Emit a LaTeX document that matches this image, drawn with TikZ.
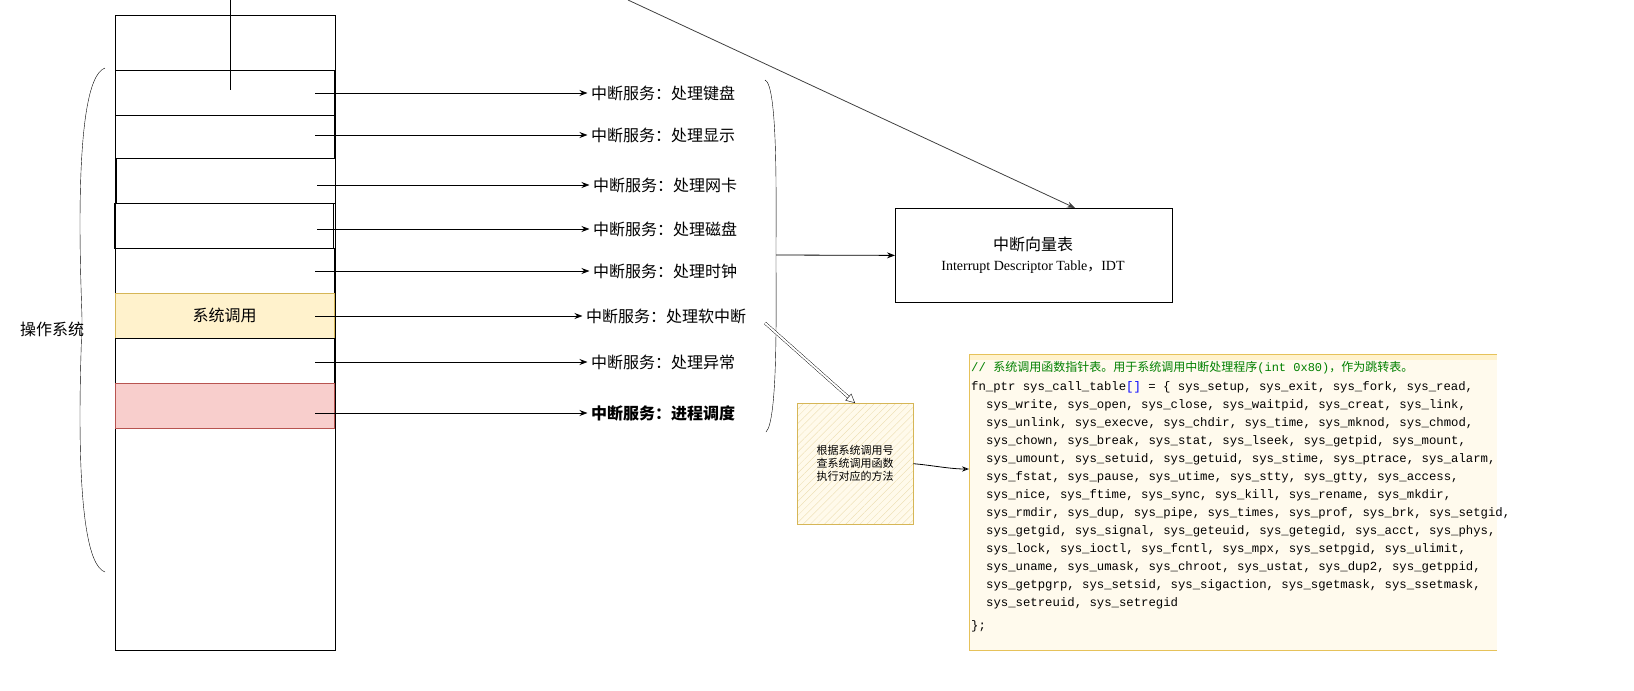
\documentclass[tikz,border=0pt]{standalone}
\usepackage{fontspec}
\setmainfont{Noto Sans CJK SC}
\newfontfamily\cjk{Noto Sans CJK SC}
\newfontfamily\serifen{Liberation Serif}
\newfontfamily\mono{Liberation Mono}
\usetikzlibrary{arrows.meta,patterns.meta}
\definecolor{ylf}{HTML}{FFF2CC}\definecolor{yls}{HTML}{D6B656}
\definecolor{rdf}{HTML}{F8CECC}\definecolor{rds}{HTML}{B85450}
\definecolor{cmt}{HTML}{008000}\definecolor{codeb}{HTML}{E6C25A}
\begin{document}
\begin{tikzpicture}[x=1pt,y=-1pt,
 row/.style={draw,minimum width=219pt,minimum height=45pt,inner sep=0pt,anchor=north west},
 lbl/.style={font=\fontsize{16}{18}\selectfont,anchor=center},
 arr/.style={-{Stealth[length=8pt,width=6pt]},line width=0.8pt},
 cl/.style={anchor=west,inner sep=0pt,font=\mono\fontsize{12.3}{14}\selectfont}]
\useasboundingbox (0,0) rectangle (1634,691);
\node[draw,minimum width=220pt,minimum height=635pt,inner sep=0pt,anchor=north west] (os) at (115,15) {};
\node[row] (r1) at (115,70) {};
\node[row,minimum height=43pt] (r2) at (115,115) {};
\node[row] (r3) at (116,158) {};
\node[row] (r4) at (114,203) {};
\node[row] (r5) at (115,248) {};
\node[row,fill=ylf,draw=yls] (r6) at (115,293) {\fontsize{16}{18}\selectfont 系统调用};
\node[row] (r7) at (115,338) {};
\node[row,fill=rdf,draw=rds] (r8) at (115,383) {};
\coordinate (top) at (230,0);
\coordinate (t1) at (230,90);
\draw (top) -- (t1);
\node[lbl] (s1) at (663,93) {中断服务：处理键盘};
\node[lbl] (s2) at (663,135) {中断服务：处理显示};
\node[lbl] (s3) at (665,185) {中断服务：处理网卡};
\node[lbl] (s4) at (665,229) {中断服务：处理磁盘};
\node[lbl] (s5) at (665,271) {中断服务：处理时钟};
\node[lbl] (s6) at (666,316) {中断服务：处理软中断};
\node[lbl] (s7) at (663,362) {中断服务：处理异常};
\node[lbl,font=\bfseries\fontsize{16}{18}\selectfont] (s8) at (663,413) {中断服务：进程调度};
\foreach \i/\x in {1/315,2/315,3/317,4/317,5/315,6/315,7/315,8/315}
  \draw[arr] (s\i.west -| \x,0) -- (s\i.west);
\node (oslbl) at (52,329) {\fontsize{16}{18}\selectfont 操作系统};
\draw (105,68) .. controls (70,80) and (82,300) .. (82,320) .. controls (82,340) and (70,560) .. (105,572);
\coordinate (bt) at (765,80);
\coordinate (bb) at (766,432);
\coordinate (btip) at (776,255);
\draw (bt) .. controls (778,85) and (776,200) .. (btip) .. controls (776,310) and (778,420) .. (bb);
\node[draw,line width=0.8pt,minimum width=277pt,minimum height=94pt,inner sep=0pt,anchor=north west] (idt) at (895,208) {};
\node[font=\fontsize{16}{19}\selectfont] (idt1) at (1033,244) {中断向量表};
\node[font=\serifen\fontsize{14}{16}\selectfont] (idt2) at (1033,267) {Interrupt Descriptor Table{\cjk ，}IDT};
\draw[arr] (btip) -- (idt.west);
\coordinate (d0) at (628,0);
\draw[arr,draw=black!75] (d0) -- (1075,208);
\node[draw=yls,fill=ylf!40,minimum width=116pt,minimum height=121pt,inner sep=0pt,anchor=north west] (note) at (797,403) {};
\fill[pattern={Lines[angle=45,distance=5pt,line width=0.3pt]},pattern color=yls!50] (note.south west) rectangle (note.north east);
\draw[yls] (note.south west) rectangle (note.north east);
\node[align=center,font=\fontsize{11}{13}\selectfont] at (note.center) {根据系统调用号\\查系统调用函数\\执行对应的方法};
\coordinate (sw) at (765,323);
\draw[double,double distance=2pt,-{Triangle[open,length=9pt,width=9pt]}] (sw) -- (855,403);
\fill[ylf!35] (969,354) rectangle (1497,650);
\fill[ylf] (969,354) rectangle (1497,360);
\draw[codeb] (1497,354) -- (969,354) -- (969,650) -- (1497,650);
\node (code) at (1233,502) {};
\draw[line width=0.8pt,-{Stealth[open,length=7pt]}] (note.east) .. controls (930,465) and (950,469) .. (969,469);
\node[cl,text=cmt] at (971,368) {// \cjk\fontsize{12}{14}\selectfont 系统调用函数指针表。用于系统调用中断处理程序\mono(int 0x80)\cjk，作为跳转表。};
\node[cl] at (971,387) {fn\_ptr sys\_call\_table\textcolor{blue}{[]} = \{ sys\_setup, sys\_exit, sys\_fork, sys\_read,};
\foreach \t [count=\k] in {
 {sys\_write, sys\_open, sys\_close, sys\_waitpid, sys\_creat, sys\_link,},
 {sys\_unlink, sys\_execve, sys\_chdir, sys\_time, sys\_mknod, sys\_chmod,},
 {sys\_chown, sys\_break, sys\_stat, sys\_lseek, sys\_getpid, sys\_mount,},
 {sys\_umount, sys\_setuid, sys\_getuid, sys\_stime, sys\_ptrace, sys\_alarm,},
 {sys\_fstat, sys\_pause, sys\_utime, sys\_stty, sys\_gtty, sys\_access,},
 {sys\_nice, sys\_ftime, sys\_sync, sys\_kill, sys\_rename, sys\_mkdir,},
 {sys\_rmdir, sys\_dup, sys\_pipe, sys\_times, sys\_prof, sys\_brk, sys\_setgid,},
 {sys\_getgid, sys\_signal, sys\_geteuid, sys\_getegid, sys\_acct, sys\_phys,},
 {sys\_lock, sys\_ioctl, sys\_fcntl, sys\_mpx, sys\_setpgid, sys\_ulimit,},
 {sys\_uname, sys\_umask, sys\_chroot, sys\_ustat, sys\_dup2, sys\_getppid,},
 {sys\_getpgrp, sys\_setsid, sys\_sigaction, sys\_sgetmask, sys\_ssetmask,},
 {sys\_setreuid, sys\_setregid}}
 \node[cl] at (986,{387+18*\k}) {\t};
\node[cl] at (971,626) {\};};
\end{tikzpicture}
\end{document}
